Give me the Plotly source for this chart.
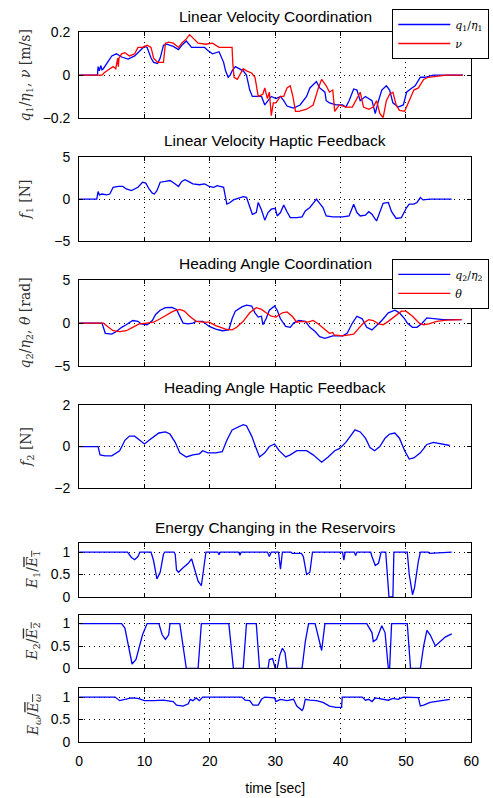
import plotly.graph_objects as go

# ---------------- data ----------------
# Linear velocity coordination
t_q1 = [0, 2.8, 2.9, 3.1, 3.3, 3.5, 3.7, 5.0, 5.7, 6.5, 7.5, 8.5, 9.5, 10.0, 10.4, 11.0, 11.4, 12.0, 12.4,
        12.9, 13.4, 14.4, 15.2, 15.7, 16.4, 17.2, 18.4, 19.2, 19.7, 20.4, 21.4, 22.1, 22.4, 22.8, 23.1, 23.4,
        23.9, 24.4, 25.1, 25.6, 26.1, 26.5, 27.1, 27.9, 28.4, 28.9, 29.4, 30.1, 30.8, 31.3, 31.8, 32.3, 32.8,
        33.8, 34.8, 35.3, 36.3, 36.8, 37.6, 37.8, 38.3, 39.3, 40.3, 40.8, 41.3, 42.0, 42.5, 43.0, 43.8, 44.8,
        45.3, 45.8, 46.3, 47.0, 47.5, 48.0, 48.8, 49.6, 50.1, 50.7, 51.4, 52.2, 52.9, 54.2, 58.7]
v_q1 = [0, 0, 0.04, 0.02, 0.045, 0.025, 0.03, 0.09, 0.10, 0.085, 0.075, 0.09, 0.12, 0.135, 0.13, 0.08, 0.06,
        0.055, 0.08, 0.14, 0.145, 0.135, 0.12, 0.14, 0.16, 0.13, 0.13, 0.13, 0.115, 0.10, 0.11, 0.06, 0.02,
        -0.01, 0.0, 0.02, 0.04, 0.03, 0.02, 0.0, -0.07, -0.10, -0.10, -0.10, -0.14, -0.12, -0.10, -0.11,
        -0.10, -0.12, -0.145, -0.15, -0.155, -0.14, -0.10, -0.06, -0.03, -0.06, -0.08, -0.12, -0.13, -0.14,
        -0.14, -0.15, -0.12, -0.065, -0.07, -0.12, -0.10, -0.12, -0.18, -0.12, -0.07, -0.05, -0.07, -0.13,
        -0.15, -0.14, -0.08, -0.065, -0.05, -0.01, -0.01, 0.0, 0.0]

t_nu = [0, 3.5, 3.8, 4.2, 4.7, 5.2, 5.6, 5.9, 6.0, 6.1, 6.5, 7.0, 7.7, 8.5, 9.0, 9.7, 10.4, 11.0, 11.4, 12.0,
        12.9, 13.2, 13.7, 14.4, 15.2, 15.7, 16.4, 16.9, 17.4, 18.2, 19.4, 20.4, 21.4, 22.4, 23.4, 23.5, 23.7,
        24.2, 24.6, 25.1, 25.6, 26.4, 26.9, 27.1, 27.4, 28.1, 28.4, 28.8, 29.1, 29.4, 29.7, 30.1, 30.8, 31.3,
        31.8, 32.3, 32.7, 33.1, 33.6, 34.8, 35.8, 36.6, 37.1, 37.8, 38.3, 38.8, 39.1, 39.8, 40.8, 41.8, 42.3,
        43.0, 43.5, 44.3, 45.0, 45.5, 46.0, 46.5, 47.0, 47.5, 48.0, 48.5, 49.0, 49.8, 50.5, 51.2, 51.9, 52.7,
        53.4, 54.7, 56.2, 58.7]
v_nu = [0, 0, 0.01, 0.02, 0.03, 0.04, 0.03, 0.08, 0.04, 0.08, 0.10, 0.105, 0.09, 0.10, 0.13, 0.13, 0.14,
        0.13, 0.08, 0.06, 0.06, 0.15, 0.155, 0.15, 0.13, 0.15, 0.17, 0.19, 0.175, 0.15, 0.145, 0.15, 0.13,
        0.13, 0.13, 0.06, -0.01, -0.02, 0.0, 0.03, 0.02, 0.01, -0.01, -0.05, -0.10, -0.09, -0.06, -0.11,
        -0.08, -0.19, -0.13, -0.13, -0.10, -0.10, -0.06, -0.05, -0.10, -0.17, -0.17, -0.16, -0.14, -0.06,
        -0.02, -0.05, -0.08, -0.07, -0.17, -0.14, -0.15, -0.15, -0.12, -0.08, -0.15, -0.16, -0.15, -0.12,
        -0.18, -0.20, -0.12, -0.09, -0.08, -0.14, -0.165, -0.17, -0.12, -0.07, -0.06, -0.02, -0.01, -0.005,
        0.0, 0.0]

# Linear velocity haptic feedback
t_f1 = [0, 2.7, 2.9, 3.1, 3.5, 4.2, 4.7, 5.2, 6.0, 6.7, 7.2, 8.0, 9.0, 9.7, 10.2, 10.7, 11.2, 11.5, 11.9,
        12.4, 13.2, 13.9, 14.7, 15.2, 15.7, 16.2, 16.7, 17.4, 18.4, 19.2, 19.9, 20.6, 21.1, 21.9, 22.1, 22.6,
        23.1, 23.6, 24.4, 25.1, 25.6, 26.1, 26.5, 27.1, 27.4, 27.9, 28.4, 28.9, 29.4, 30.0, 30.3, 30.8, 31.3,
        31.8, 32.3, 33.3, 34.1, 34.6, 35.3, 35.8, 36.3, 36.8, 37.3, 37.8, 38.8, 40.3, 41.3, 42.0, 42.5, 43.0,
        43.8, 44.3, 44.8, 45.5, 46.0, 46.5, 47.3, 47.8, 48.5, 49.3, 50.1, 50.5, 51.2, 51.7, 52.2, 52.6, 53.7,
        57.0]
v_f1 = [0, 0, 0.9, 0.5, 0.6, 0.5, 0.6, 1.4, 1.5, 1.5, 1.2, 1.0, 1.4, 2.0, 1.9, 1.2, 0.7, 0.6, 1.0, 2.0,
        2.1, 2.2, 1.8, 1.5, 2.1, 2.3, 2.1, 1.8, 1.7, 1.8, 1.5, 1.4, 1.6, 1.5, 1.4, -0.6, -0.4, -0.1, 0.1, 0.3,
        0.2, -0.8, -1.8, -1.6, -0.4, -1.3, -2.5, -1.6, -1.2, -1.1, -2.0, -1.6, -0.7, -1.5, -2.2, -2.2, -2.1,
        -1.4, -1.0, -0.5, 0.0, -0.5, -1.0, -2.0, -2.1, -2.1, -2.0, -0.6, -1.6, -2.0, -1.9, -1.5, -1.8, -2.6,
        -1.6, -0.5, -0.4, -1.5, -2.3, -2.2, -1.0, -0.6, -0.6, -0.4, 0.2, -0.1, 0.0, 0.0]

# Heading angle coordination
t_q2 = [0, 3.5, 4.0, 5.0, 5.7, 6.5, 7.2, 8.2, 9.0, 9.5, 10.4, 11.2, 11.7, 12.4, 13.2, 14.2, 14.9, 15.4,
        15.9, 16.7, 17.4, 17.9, 18.9, 19.9, 20.9, 21.9, 22.9, 23.4, 23.9, 24.9, 25.6, 26.4, 26.9, 27.4, 27.9,
        28.1, 28.6, 29.1, 29.9, 30.3, 30.8, 31.6, 32.3, 32.8, 33.6, 34.6, 35.3, 36.1, 36.8, 37.6, 38.3, 38.8,
        40.3, 41.0, 41.8, 42.5, 43.3, 44.0, 44.8, 45.5, 46.3, 47.3, 48.3, 49.0, 49.8, 50.2, 51.0, 51.7, 52.5,
        53.2, 54.2, 55.7, 58.5]
v_q2 = [0, 0, -1.2, -1.3, -1.0, -0.5, -0.2, 0.3, 0.2, -0.1, -0.2, 0.3, 1.0, 1.5, 1.8, 1.85, 1.6, 0.8, 0.0,
        -0.1, 0.0, 0.2, 0.2, -0.4, -0.7, -0.9, -0.8, 0.5, 1.4, 1.9, 2.1, 2.0, 1.2, 0.7, 0.8, -0.2, 0.5, 1.5,
        2.0, 1.5, 0.5, -0.4, -0.5, 0.0, 0.3, 0.2, -0.5, -1.0, -1.6, -1.8, -1.6, -1.5, -1.5, -1.2, 0.0, 0.8,
        0.5, -0.5, -0.8, -0.3, 0.3, 1.2, 1.5, 1.2, 0.5, 0.0, -0.5, -0.5, 0.0, 0.6, 0.5, 0.4, 0.4]

t_th = [0, 3.7, 4.5, 5.2, 6.2, 7.2, 8.2, 9.2, 10.4, 11.4, 12.4, 13.4, 14.4, 15.4, 16.1, 16.9, 17.9, 18.9,
        19.9, 20.9, 22.4, 23.4, 24.1, 25.1, 26.1, 27.1, 27.9, 28.6, 29.4, 30.1, 31.1, 31.8, 32.6, 33.3, 34.0,
        35.0, 35.8, 36.6, 37.6, 38.3, 38.8, 39.0, 40.3, 41.3, 42.0, 42.8, 43.5, 44.3, 45.0, 45.8, 46.5, 47.3,
        48.3, 49.3, 50.0, 51.0, 52.0, 52.7, 53.5, 54.7, 56.2, 58.5]
v_th = [0, 0, -0.5, -0.9, -1.0, -0.9, -0.5, -0.1, 0.0, 0.1, 0.5, 1.0, 1.4, 1.6, 1.4, 0.8, 0.2, 0.1, 0.1,
        -0.3, -0.7, -0.8, -0.5, 0.2, 1.2, 1.8, 1.6, 1.2, 0.8, 0.7, 1.2, 1.3, 0.8, 0.1, 0.2, 0.1, 0.3, -0.1,
        -0.8, -1.2, -1.1, -1.4, -1.5, -1.4, -1.3, -0.6, 0.0, 0.4, 0.3, -0.1, -0.2, 0.2, 0.8, 1.4, 1.4, 0.8,
        0.0, -0.2, -0.1, 0.2, 0.35, 0.4]

# Heading angle haptic feedback
t_f2 = [0, 2.9, 3.2, 4.0, 5.0, 5.7, 6.2, 7.0, 7.7, 8.5, 9.2, 10.0, 10.7, 11.4, 12.2, 13.2, 13.9, 14.7,
        15.4, 16.4, 17.4, 18.4, 18.9, 19.7, 20.9, 21.9, 22.6, 23.4, 24.4, 25.1, 25.6, 26.4, 27.1, 27.6, 28.4,
        29.1, 29.9, 30.6, 31.6, 32.3, 33.3, 34.8, 35.8, 37.1, 38.1, 39.1, 39.8, 40.8, 41.5, 42.2, 43.0, 43.8,
        44.5, 45.2, 46.0, 46.8, 47.5, 48.3, 49.0, 49.8, 50.5, 51.2, 52.2, 53.2, 54.2, 55.2, 56.7]
v_f2 = [0, 0, -0.4, -0.45, -0.45, -0.3, -0.2, 0.3, 0.5, 0.5, 0.3, 0.12, 0.3, 0.45, 0.65, 0.7, 0.6, 0.2,
        -0.3, -0.5, -0.4, -0.35, -0.2, -0.3, -0.3, -0.25, 0.3, 0.8, 0.95, 1.05, 1.0, 0.5, -0.1, -0.5, -0.3,
        0.0, 0.12, -0.2, -0.5, -0.4, -0.2, -0.2, -0.4, -0.75, -0.5, -0.2, -0.1, 0.2, 0.5, 0.8, 0.7, 0.4,
        -0.05, -0.2, 0.0, 0.4, 0.6, 0.65, 0.4, -0.2, -0.6, -0.55, -0.3, 0.1, 0.2, 0.15, 0.05]

# Energy in the reservoirs (normalised)
t_e1 = [0, 7.4, 8.0, 8.5, 9.0, 9.3, 11.0, 11.4, 11.9, 12.4, 12.9, 13.1, 14.5, 14.7, 14.9, 15.2, 15.9, 16.7,
        17.2, 17.7, 18.2, 18.7, 19.0, 19.4, 21.2, 21.4, 21.6, 24.4, 24.6, 24.8, 28.8, 29.1, 29.4, 30.5, 30.8,
        31.1, 32.4, 32.6, 34.0, 34.3, 34.8, 35.3, 35.7, 40.3, 40.5, 40.7, 42.1, 42.3, 42.5, 44.6, 44.8, 45.3,
        45.8, 46.2, 46.9, 47.2, 47.4, 48.0, 48.15, 50.2, 50.5, 51.0, 51.3, 51.9, 52.2, 53.4, 53.6, 57.0]
v_e1 = [1, 1, 0.88, 0.83, 0.9, 1.0, 1.0, 0.8, 0.4, 0.55, 0.95, 1.0, 1.0, 0.95, 0.6, 0.55, 0.65, 0.75, 0.85,
        0.6, 0.35, 0.25, 0.6, 1.0, 1.0, 0.94, 1.0, 1.0, 0.93, 1.0, 1.0, 0.9, 1.0, 1.0, 0.62, 1.0, 1.0, 0.97,
        0.97, 0.9, 0.5, 0.55, 1.0, 1.0, 0.82, 1.0, 1.0, 0.92, 1.0, 1.0, 0.9, 0.7, 0.75, 1.0, 1.0, 0.5, 0.0,
        0.0, 1.0, 1.0, 0.5, 0.05, 0.2, 0.8, 1.0, 1.0, 0.97, 1.0]

t_e2 = [0, 6.5, 7.0, 7.5, 8.1, 8.7, 9.2, 9.7, 10.4, 12.2, 12.7, 13.2, 13.7, 13.9, 15.4, 15.9, 16.4, 18.2,
        18.7, 22.9, 23.6, 25.1, 25.6, 27.1, 27.6, 28.9, 29.1, 29.6, 30.0, 30.3, 30.7, 31.1, 31.5, 31.8, 34.1,
        34.6, 35.1, 36.1, 36.6, 37.1, 37.6, 44.0, 44.8, 45.0, 45.5, 46.3, 46.8, 47.3, 47.5, 47.8, 50.2, 50.7,
        52.2, 52.7, 53.2, 53.7, 54.5, 55.2, 56.0, 57.0]
v_e2 = [1, 1, 0.9, 0.5, 0.1, 0.2, 0.45, 0.75, 1.0, 1.0, 0.75, 0.65, 0.75, 1.0, 1.0, 0.5, 0.0, 0.0, 1.0,
        1.0, 0.0, 0.0, 1.0, 1.0, 0.0, 0.0, 0.2, 0.22, 0.0, 0.0, 0.3, 0.45, 0.35, 0.0, 0.0, 0.6, 1.0, 1.0, 0.7,
        0.4, 1.0, 1.0, 0.8, 0.6, 0.65, 0.95, 0.8, 0.0, 0.0, 1.0, 1.0, 0.0, 0.0, 0.5, 0.85, 0.75, 0.5, 0.6,
        0.7, 0.77]

t_ew = [0, 5.5, 6.2, 7.0, 8.0, 9.0, 10.0, 11.4, 12.9, 14.4, 14.9, 15.9, 16.7, 17.0, 17.4, 17.9, 18.4, 18.9,
        24.9, 25.4, 26.1, 26.6, 27.4, 27.9, 28.4, 29.9, 30.1, 30.8, 31.8, 32.8, 33.3, 34.1, 34.3, 34.6, 35.3,
        36.3, 37.3, 38.3, 39.3, 40.15, 40.25, 43.3, 43.8, 44.3, 44.8, 45.3, 46.3, 47.3, 48.0, 48.8, 49.6,
        51.9, 52.2, 52.7, 53.7, 54.7, 55.7, 56.7]
v_ew = [1, 1, 0.92, 0.95, 0.98, 0.97, 0.92, 0.92, 0.93, 0.9, 0.82, 0.8, 0.85, 0.95, 0.92, 0.98, 0.92, 1.0,
        1.0, 0.93, 0.92, 0.82, 0.82, 0.95, 1.0, 0.98, 0.9, 0.95, 0.92, 0.95, 0.8, 0.7, 0.75, 0.95, 0.93, 0.92,
        0.88, 0.8, 0.77, 0.77, 1.0, 1.0, 0.93, 0.95, 0.9, 0.98, 0.95, 0.93, 0.97, 0.95, 1.0, 0.99, 0.8, 0.82,
        0.88, 0.9, 0.92, 0.95]

x_ticks = [0, 10, 20, 30, 40, 50, 60]

titles = ["Linear Velocity Coordination", "Linear Velocity Haptic Feedback",
          "Heading Angle Coordination", "Heading Angle Haptic Feedback",
          "Energy Changing in the Reservoirs"]

OVL = "<span style='text-decoration:overline'><i>E</i><sub>{}</sub></span>"
y_labels = [
    "<i>q</i><sub>1</sub>/<i>η</i><sub>1</sub>, <i>ν</i> [m/s]",
    "<i>f</i><sub>1</sub> [N]",
    "<i>q</i><sub>2</sub>/<i>η</i><sub>2</sub>, <i>θ</i> [rad]",
    "<i>f</i><sub>2</sub> [N]",
    "<i>E</i><sub>1</sub>/" + OVL.format("1"),
    "<i>E</i><sub>2</sub>/" + OVL.format("2"),
    "<i>E</i><sub><i>ω</i></sub>/" + OVL.format("<i>ω</i>"),
]

# ---------------- layout geometry (pixels) ----------------
W, H = 493, 798
X0, X1 = 77, 479
panels_px = [(25, 112), (152, 238), (278, 365), (405, 490), (546, 601), (619, 674), (694, 749)]
y_ranges = [[-0.2, 0.2], [-5, 5], [-5, 5], [-2, 2], [0, 1.2], [0, 1.2], [0, 1.2]]
y_ticks = [[-0.2, 0, 0.2], [-5, 0, 5], [-5, 0, 5], [-2, 0, 2], [0, 0.5, 1], [0, 0.5, 1], [0, 0.5, 1]]
y_ticktext = [["−0.2", "0", "0.2"], ["−5", "0", "5"], ["−5", "0", "5"], ["−2", "0", "2"],
              ["0", "0.5", "1"], ["0", "0.5", "1"], ["0", "0.5", "1"]]
title_px = [9, 135, 261, 387, 530]
label_x_px = [23, 23, 23, 23, 30, 29, 31]


def fy(px):
    return 1 - px / H


BLUE = "#0000ff"
RED = "#ff0000"
SANS = "Liberation Sans, Arial, sans-serif"
SERIF = "DejaVu Serif, Liberation Serif, serif"

fig = go.Figure()

series = [
    (0, t_q1, v_q1, BLUE, "<i>q</i><sub>1</sub>/<i>η</i><sub>1</sub>", "legend"),
    (0, t_nu, v_nu, RED, "<i>ν</i>", "legend"),
    (1, t_f1, v_f1, BLUE, None, None),
    (2, t_q2, v_q2, BLUE, "<i>q</i><sub>2</sub>/<i>η</i><sub>2</sub>", "legend2"),
    (2, t_th, v_th, RED, "<i>θ</i>", "legend2"),
    (3, t_f2, v_f2, BLUE, None, None),
    (4, t_e1, v_e1, BLUE, None, None),
    (5, t_e2, v_e2, BLUE, None, None),
    (6, t_ew, v_ew, BLUE, None, None),
]

for idx, tx, vy, col, name, leg in series:
    suffix = "" if idx == 0 else str(idx + 1)
    tr = dict(x=tx, y=vy, mode="lines", line=dict(color=col, width=1.3),
              xaxis="x" + suffix, yaxis="y" + suffix, hoverinfo="skip")
    if name:
        tr.update(name=name, showlegend=True, legend=leg)
    else:
        tr.update(showlegend=False)
    fig.add_trace(go.Scatter(**tr))

grid_common = dict(showgrid=True, gridcolor="#000000", gridwidth=1, griddash="1px,4px",
                   zeroline=False, showline=True, linecolor="#000000", linewidth=1,
                   mirror="ticks", ticks="inside", ticklen=4, tickcolor="#000000",
                   tickfont=dict(family=SANS, size=14, color="#000000"))

layout = dict(width=W, height=H, margin=dict(l=0, r=0, t=0, b=0),
              paper_bgcolor="white", plot_bgcolor="white", showlegend=True)

for i, (top, bot) in enumerate(panels_px):
    suffix = "" if i == 0 else str(i + 1)
    xa = dict(domain=[X0 / W, X1 / W], range=[0, 60], tickvals=x_ticks, anchor="y" + suffix,
              showticklabels=(i == 6), ticklabelstandoff=6, **grid_common)
    if i > 0:
        xa["matches"] = "x"
    ya = dict(domain=[fy(bot), fy(top)], range=y_ranges[i], tickvals=y_ticks[i],
              ticktext=y_ticktext[i], anchor="x" + suffix, ticklabelstandoff=5, **grid_common)
    layout["xaxis" + suffix] = xa
    layout["yaxis" + suffix] = ya

layout["xaxis7"]["title"] = dict(text="time [sec]", font=dict(family=SANS, size=14, color="#000000"),
                                 standoff=15)

legend_style = dict(bgcolor="white", bordercolor="#000000", borderwidth=1,
                    font=dict(family=SERIF, size=11, color="#000000"),
                    xanchor="left", yanchor="top", tracegroupgap=0, itemwidth=52)
layout["legend"] = dict(x=398 / W, y=fy(1), **legend_style)
layout["legend2"] = dict(x=398 / W, y=fy(256), **legend_style)

annotations = []
for i, txt in enumerate(titles):
    annotations.append(dict(text=txt, x=(X0 + X1) / 2 / W, y=fy(title_px[i]), xref="paper", yref="paper",
                            xanchor="center", yanchor="middle", showarrow=False,
                            font=dict(family=SANS, size=15.5, color="#000000")))
for i, txt in enumerate(y_labels):
    top, bot = panels_px[i]
    annotations.append(dict(text=txt, x=label_x_px[i] / W, y=fy((top + bot) / 2), xref="paper",
                            yref="paper", xanchor="center", yanchor="middle", textangle=-90,
                            showarrow=False, font=dict(family=SERIF, size=14, color="#333333")))
layout["annotations"] = annotations

fig.update_layout(**layout)
fig.write_html("out.html")
